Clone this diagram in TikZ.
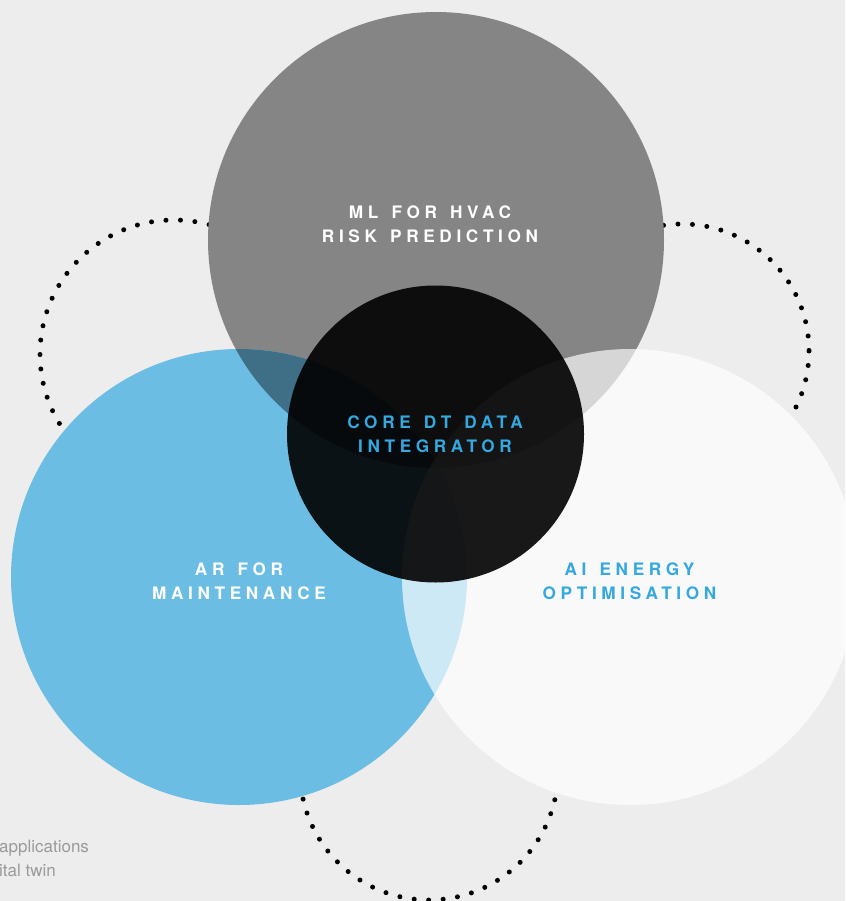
\documentclass[tikz,border=0pt]{standalone}
\usepackage{fontspec}
\setmainfont{TeX Gyre Heros}
\newfontfamily\tracked[LetterSpace=27, WordSpace=1.4]{TeX Gyre Heros}
\usetikzlibrary{positioning}
\definecolor{pagebg}{HTML}{EDEDED}
\definecolor{hvacgray}{HTML}{858585}
\definecolor{arblue}{HTML}{6CBDE4}
\definecolor{overlapteal}{HTML}{3F6F86}
\definecolor{energywhite}{HTML}{FFFFFF}
\definecolor{labelblue}{HTML}{35A8E0}
\definecolor{notegray}{HTML}{9A9A9A}

\begin{document}
\begin{tikzpicture}[x=1pt, y=-1pt,
    dots/.style={line width=5pt, line cap=round, dash pattern=on 0pt off 14.5pt},
    caption/.style={font=\tracked\bfseries\fontsize{17.2}{24}\selectfont,
                    align=center, inner sep=0pt, anchor=base},
    note/.style={font=\fontsize{17}{24}\selectfont, text=notegray,
                 align=left, inner sep=0pt, anchor=base west}
]
    \clip (0,0) rectangle (845,901);
    \fill[pagebg] (0,0) rectangle (845,901);

    % dotted rings behind the circles
    \draw[dots] (174,354) circle[radius=134];
    \draw[dots] (682,351) circle[radius=127];
    \draw[dots] (429,771) circle[radius=129];
    \fill[pagebg] (630,577) circle[radius=228];

    % main circles
    \fill[hvacgray] (436,240) circle[radius=228];
    \fill[arblue] (239,577) circle[radius=228];
    \begin{scope}
        \clip (436,240) circle[radius=228];
        \fill[overlapteal] (239,577) circle[radius=228];
    \end{scope}
    \fill[energywhite, fill opacity=0.67] (630,577) circle[radius=228];
    \fill[black, fill opacity=0.9] (435.5,434) circle[radius=148.5];

    % labels, anchored on the baseline of their last line
    \node[caption, text=white] (ml) at (430,242.5) {ML FOR HVAC\\RISK PREDICTION};
    \node[caption, text=labelblue] (core) at (435,452.5) {CORE DT DATA\\INTEGRATOR};
    \node[caption, text=white] (ar) at (239,599.5) {AR FOR\\MAINTENANCE};
    \node[caption, text=labelblue] (ai) at (629.5,599.5) {AI ENERGY\\OPTIMISATION};

    \node[note] (apps) at (-1,876.7) {applications\\ital twin};
\end{tikzpicture}
\end{document}
